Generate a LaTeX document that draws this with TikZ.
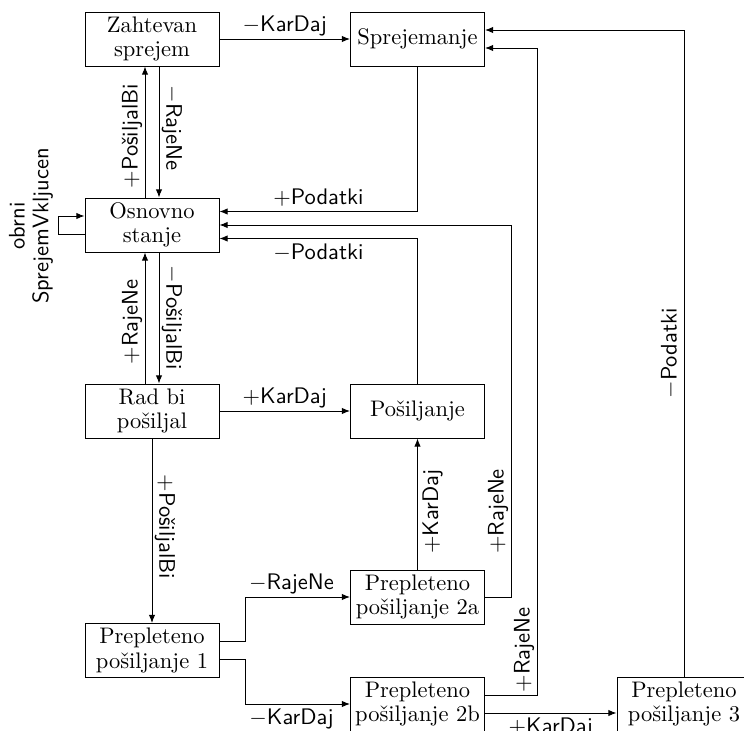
\documentclass[tikz,border=0pt]{standalone}
\usetikzlibrary{calc,arrows.meta}
\begin{document}
\begin{tikzpicture}[x=0.4444pt,y=-0.4444pt,
  box/.style={draw, rectangle, minimum width=59.56pt, minimum height=24pt, inner sep=1pt, align=center, font=\fontsize{10}{11}\selectfont},
  arr/.style={-{Latex[length=3.6pt,width=2.8pt]}},
  lab/.style={font=\sffamily\fontsize{10}{12}\selectfont, inner sep=1.2pt, text height=7.8pt, text depth=1.9pt},
  labtwo/.style={font=\sffamily\fontsize{10}{10.5}\selectfont, inner sep=0pt, align=center},
]
\useasboundingbox (0,0) rectangle (744,731);

\node[box] (zs) at (152,39) {Zahtevan\\sprejem};
\node[box] (sp) at (417.5,39) {Sprejemanje};
\node[box] (os) at (152,225) {Osnovno\\stanje};
\node[box] (rb) at (152,411) {Rad bi\\pošiljal};
\node[box] (po) at (417.5,411) {Pošiljanje};
\node[box] (pa) at (417.5,597) {Prepleteno\\pošiljanje 2a};
\node[box] (pe) at (152,650.5) {Prepleteno\\pošiljanje 1};
\node[box] (pb) at (417.5,704) {Prepleteno\\pošiljanje 2b};
\node[box] (pc) at (684,704) {Prepleteno\\pošiljanje 3};

\draw[arr] (zs) -- node[lab,above]{$-$KarDaj} (sp);
\draw[arr] ($(os.north)+(-7,0)$) -- node[lab,rotate=90,anchor=south,pos=0.47]{$+$PošiljalBi} ($(zs.south)+(-7,0)$);
\draw[arr] ($(zs.south)+(7,0)$) -- node[lab,rotate=-90,anchor=south,pos=0.47]{$-$RajeNe} ($(os.north)+(7,0)$);
\draw[arr] ($(rb.north)+(-7,0)$) -- node[lab,rotate=90,anchor=south,pos=0.47]{$+$RajeNe} ($(os.south)+(-7,0)$);
\draw[arr] ($(os.south)+(7,0)$) -- node[lab,rotate=-90,anchor=south,pos=0.5]{$-$PošiljalBi} ($(rb.north)+(7,0)$);

\draw[arr] ($(os.west)+(0,9)$) -- ++(-26,0) coordinate (lp) |- ($(os.west)+(0,-9)$);
\node[labtwo, rotate=90] (obr) at (31,226) {obrni\\SprejemVkljucen};

\draw[arr] (sp.south) |- node[lab,above,pos=0.75]{$+$Podatki} ($(os.east)+(0,-13.5)$);
\draw[arr] (pa.east) -- ++(26,0) coordinate (ca) -- node[lab,rotate=90,anchor=south,pos=0.23]{$+$RajeNe} (ca |- os.east) -- (os.east);
\draw[arr] (po.north) |- node[lab,below,pos=0.75]{$-$Podatki} ($(os.east)+(0,13.5)$);

\draw[arr] (rb) -- node[lab,above]{$+$KarDaj} (po);
\draw[arr] (rb) -- node[lab,rotate=-90,anchor=south,pos=0.48]{$+$PošiljalBi} (pe);
\draw[arr] (pa) -- node[lab,rotate=90,anchor=north,pos=0.44]{$+$KarDaj} (po);

\draw[arr] ($(pe.east)+(0,-9)$) -- ++(26,0) |- node[lab,above,pos=0.72]{$-$RajeNe} (pa.west);
\draw[arr] ($(pe.east)+(0,9)$) -- ++(26,0) |- node[lab,below,pos=0.72]{$-$KarDaj} (pb.west);

\draw[arr] ($(pb.east)+(0,-9)$) -- ++(52,0) coordinate (cb) -- node[lab,rotate=90,anchor=south,pos=0.07]{$+$RajeNe} ($(cb |- sp.east)+(0,9)$) -- ($(sp.east)+(0,9)$);
\draw[arr] (pc.north) |- node[lab,rotate=90,anchor=south,pos=0.25]{$-$Podatki} ($(sp.east)+(0,-9)$);
\draw[arr] ($(pb.east)+(0,9)$) -- node[lab,below]{$+$KarDaj} ($(pc.west)+(0,9)$);
\end{tikzpicture}
\end{document}
